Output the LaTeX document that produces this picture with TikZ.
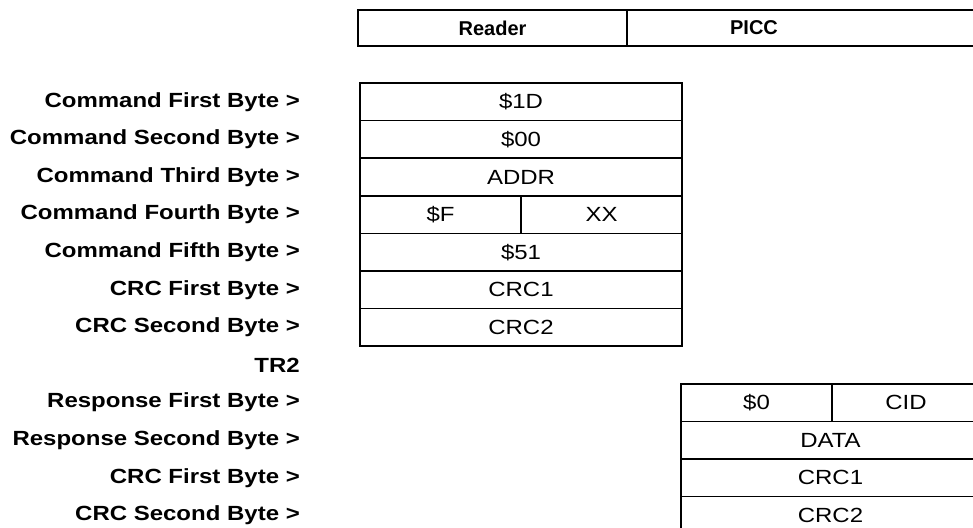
\documentclass[tikz,border=0pt]{standalone}
\usepackage{fontspec}
\setmainfont{Liberation Sans}[FakeStretch=1.17]
\newfontfamily\headfont{Liberation Sans}
\usetikzlibrary{positioning}
\tikzset{
  frame/.style = {line width=1.6pt},
  cell/.style = {draw, line width=1.6pt, inner sep=0pt, outer sep=0pt, minimum height=37.6pt, font=\fontsize{20.5}{24}\selectfont},
  wide/.style = {cell, minimum width=322pt},
  half/.style = {cell, minimum width=161pt},
  rowlabel/.style = {anchor=east, inner sep=0pt, font=\fontsize{20.5}{24}\selectfont\bfseries},
  headtext/.style = {inner sep=0pt, font=\headfont\fontsize{20}{24}\selectfont\bfseries}
}

\begin{document}
\begin{tikzpicture}[x=1pt, y=-1pt]
	\useasboundingbox (0,0) rectangle (973,527);
	\clip (0,0) rectangle (973,527);

	% header
	\draw[frame] (358,10) rectangle (1000,46);
	\draw[frame] (627,10) -- (627,46);
	\node[headtext] (reader) at (492.5,28) {Reader};
	\node[headtext] (picc) at (754,28) {PICC};

	% labels
	\foreach \txt [count=\i from 0] in {Command First Byte >, Command Second Byte >,
		Command Third Byte >, Command Fourth Byte >, Command Fifth Byte >,
		CRC First Byte >, CRC Second Byte >, TR2, Response First Byte >,
		Response Second Byte >, CRC First Byte >, CRC Second Byte >}
		\node[rowlabel] (lab\i) at (300,101.8+37.6*\i) {\txt};

	% reader frame
	\node[wide, anchor=north west] (r1) at (360,83) {\$1D};
	\node[wide] (r2) [below=0pt of r1] {\$00};
	\node[wide] (r3) [below=0pt of r2] {ADDR};
	\node[half] (r4a) [below right=0pt of r3.south west] {\$F};
	\node[half] (r4b) [right=0pt of r4a] {XX};
	\node[wide] (r5) [below right=0pt of r4a.south west] {\$51};
	\node[wide] (r6) [below=0pt of r5] {CRC1};
	\node[wide] (r7) [below=0pt of r6] {CRC2};

	% picc frame
	\node[cell, minimum width=151pt, anchor=north west] (p1a) at (681,383.8) {\$0};
	\node[cell, minimum width=148pt] (p1b) [right=0pt of p1a] {CID};
	\node[cell, minimum width=299pt] (p2) [below right=0pt of p1a.south west] {DATA};
	\node[cell, minimum width=299pt] (p3) [below=0pt of p2] {CRC1};
	\node[cell, minimum width=299pt] (p4) [below=0pt of p3] {CRC2};
\end{tikzpicture}
\end{document}
